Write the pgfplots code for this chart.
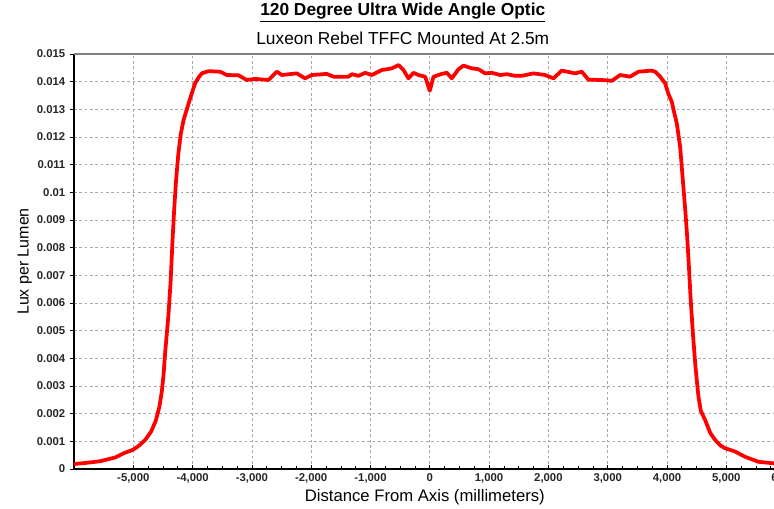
\documentclass[border=0pt]{standalone}
\usepackage{fontspec}
\setmainfont{Liberation Sans}
\usepackage{pgfplots}
\pgfplotsset{compat=1.18}

\begin{document}
\begin{tikzpicture}
% crop like the reference: the right edge of the plot is cut off
\useasboundingbox (-55.5pt,-30pt) rectangle (525pt,351.75pt);
\begin{axis}[
    scale only axis,
    width=533.7pt, height=311.25pt,
    xmin=-6000, xmax=6000,
    ymin=0, ymax=0.015,
    xtick={-5000,-4000,...,6000},
    ytick distance=0.001,
    minor x tick num=3,
    axis x line*=bottom,
    axis y line*=left,
    x axis line style={line width=1.4pt, black},
    y axis line style={line width=1.4pt, black},
    x tick style={black, line width=0.5pt},
    y tick style={black, line width=0.6pt},
    xtick align=inside,
    ytick align=outside,
    major tick length=3pt,
    minor tick length=2.5pt,
    grid=major,
    major grid style={gray!70, line width=0.6pt, dash pattern=on 2pt off 2pt},
    scaled y ticks=false,
    /pgf/number format/assume math mode=true,
    yticklabel style={/pgf/number format/fixed, /pgf/number format/precision=3,
      font=\bfseries\fontsize{8.5}{10}\selectfont, text=black!85},
    xticklabel style={/pgf/number format/1000 sep={,},
      font=\bfseries\fontsize{8.5}{10}\selectfont, text=black!85},
    xlabel={Distance From Axis (millimeters)},
    ylabel={Lux per Lumen},
    xlabel style={font=\fontsize{12.5}{14}\selectfont, at={(axis description cs:0.493,-0.0675)}, anchor=center},
    ylabel style={font=\fontsize{12}{14}\selectfont, at={(axis description cs:-0.069,0.5)}, anchor=center, rotate=0},
    clip=false,
    after end axis/.code={
      \draw[gray, line width=0.8pt] (rel axis cs:0,1) -- (rel axis cs:1,1);
      \node[font=\bfseries\fontsize{13}{15}\selectfont] at (axis description cs:0.462,1.1)
        {\underline{120 Degree Ultra Wide Angle Optic}};
      \node[font=\fontsize{13}{15}\selectfont] at (axis description cs:0.462,1.0386)
        {Luxeon Rebel TFFC Mounted At 2.5m};
    },
]
\addplot[red, line width=2.8pt, line join=round] coordinates {
(-6000,0.00018) (-5800,0.00022) (-5560,0.00028) (-5300,0.00042) (-5150,0.00058)
(-5000,0.00070) (-4900,0.00085) (-4800,0.00105) (-4700,0.00135) (-4620,0.00175)
(-4560,0.00225) (-4519,0.0028) (-4490,0.0034) (-4463,0.0042) (-4406,0.0056)
(-4370,0.0068) (-4340,0.0082) (-4310,0.0094) (-4280,0.0104) (-4240,0.0114)
(-4200,0.0121) (-4154,0.0126) (-4098,0.0130) (-4040,0.0134) (-3958,0.01394)
(-3900,0.01415)
(-3845,0.0143) (-3732,0.01438) (-3536,0.01436) (-3423,0.01424) (-3226,0.01423)
(-3086,0.01406) (-2946,0.0141) (-2721,0.01406) (-2580,0.01436) (-2496,0.01424)
(-2243,0.0143) (-2103,0.01412) (-1990,0.01424) (-1737,0.01428) (-1624,0.01418)
(-1371,0.01418) (-1315,0.01427) (-1202,0.01421) (-1090,0.01432) (-978,0.01424)
(-809,0.01442) (-641,0.01448) (-528,0.0146) (-444,0.01442) (-360,0.01412)
(-275,0.01432) (-191,0.01424) (-79,0.01418) (0,0.01367) (62,0.01418)
(202,0.01428) (287,0.01432) (371,0.01412) (484,0.01445) (568,0.01458)
(708,0.01448) (821,0.01445) (933,0.0143) (1046,0.01432) (1186,0.01424)
(1298,0.01427) (1439,0.01421) (1551,0.01421) (1748,0.0143) (1944,0.01424)
(2086,0.01412) (2226,0.0144) (2451,0.0143) (2563,0.01436) (2676,0.01407)
(2900,0.01406) (3069,0.01403) (3209,0.01424) (3378,0.01418) (3519,0.01436)
(3744,0.0144) (3800,0.01436) (3884,0.01418) (3968,0.01394) (4025,0.01355)
(4081,0.01327) (4120,0.0129) (4165,0.01249) (4221,0.01165) (4250,0.0109)
(4280,0.0101) (4310,0.0093) (4340,0.0084) (4370,0.0073) (4400,0.0061)
(4440,0.0048) (4480,0.0037) (4531,0.0026) (4570,0.0021) (4643,0.00177) (4730,0.0013) (4812,0.00105)
(4900,0.00085) (4980,0.00075) (5149,0.00063) (5317,0.00044) (5542,0.00026)
(5823,0.0002) (6000,0.0002)
};
\end{axis}
\end{tikzpicture}
\end{document}
